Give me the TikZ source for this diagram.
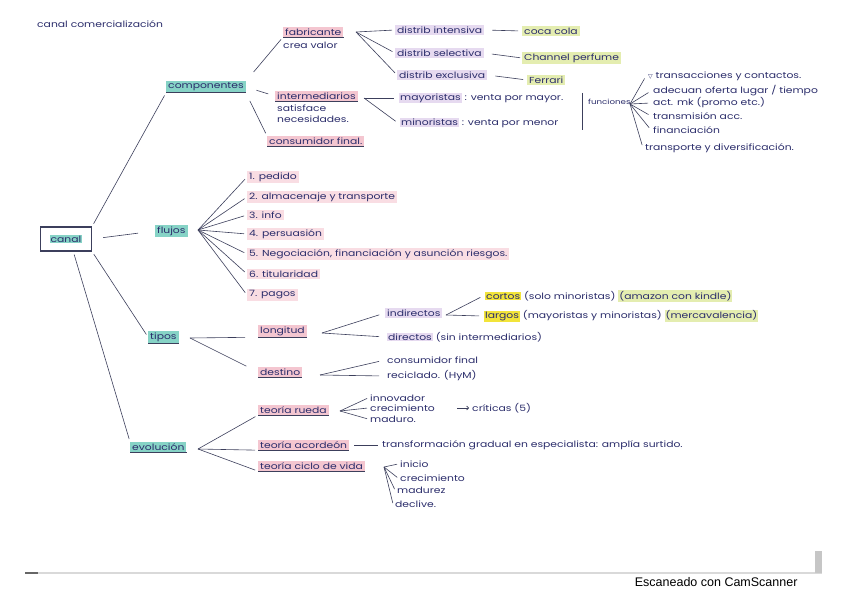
\documentclass[tikz,border=0pt]{standalone}
\usepackage{fontspec}
\newfontfamily\hand[FakeStretch=1.24]{Poppins}
\newfontfamily\scanfont{Liberation Sans}
\newfontfamily\symfont{DejaVu Sans}
\usepackage{xcolor}
\definecolor{ink}{HTML}{2B2D6B}
\definecolor{line}{HTML}{3C3F5C}
\definecolor{hlteal}{HTML}{86D3C6}
\definecolor{hlpink}{HTML}{F4C6D0}
\definecolor{hlrose}{HTML}{F9DDE3}
\definecolor{hllav}{HTML}{E6DAF0}
\definecolor{hlgrn}{HTML}{E4EDB0}
\definecolor{hlyel}{HTML}{F2E43A}
\usepackage{tikz}
\usetikzlibrary{positioning,arrows.meta,calc}
\newcommand{\hlt}[2]{{\setlength{\fboxsep}{1pt}\colorbox{#1}{#2}}}

\tikzset{
  hand/.style={font=\hand\fontsize{8.7}{9}\selectfont, text=ink, inner xsep=2pt, inner ysep=1.5pt, anchor=west},
  tealbox/.style={hand, fill=hlteal},
  pinkbox/.style={hand, fill=hlpink},
  rosebox/.style={hand, fill=hlrose},
  lavbox/.style={hand, fill=hllav},
  grnbox/.style={hand, fill=hlgrn},
  ul/.style={append after command={(\tikzlastnode.south west) edge[draw=line, line width=0.7pt] (\tikzlastnode.south east)}},
  link/.style={draw=line, line width=0.6pt, shorten <=3pt, shorten >=3pt}
}

\begin{document}
\begin{tikzpicture}[x=1pt,y=-1pt]
  \useasboundingbox (0,0) rectangle (848,599);
  \fill[white] (0,0) rectangle (848,599);
  \draw[gray!30, line width=1.2pt] (25,573) -- (822,573);
  \draw[gray!80!black, line width=1.5pt] (25,573) -- (38,573);
  \fill[gray!45] (815,551) rectangle (822,573);
  \node[font=\scanfont\fontsize{12.5}{14}\selectfont, anchor=east] (scan) at (801,582) {Escaneado con CamScanner};

  \node[hand] (title) at (35,24) {canal comercialización};
  \node[hand, draw=line, line width=1.3pt, minimum width=51pt, minimum height=24pt, anchor=center] (canal) at (66,239) {\hlt{hlteal}{canal}};

  \node[tealbox, ul] (comp) at (166,87) {componentes};
  \node[pinkbox, ul] (fab) at (283,32) {fabricante};
  \node[hand] (crea) at (281,45) {crea valor};
  \node[lavbox] (di) at (395,30) {distrib intensiva};
  \node[lavbox] (ds) at (395,53) {distrib selectiva};
  \node[lavbox] (de) at (397,75) {distrib exclusiva};
  \node[grnbox] (coca) at (522,31) {coca cola};
  \node[grnbox] (chan) at (522,58) {Channel perfume};
  \node[grnbox] (ferr) at (527,80) {Ferrari};
  \node[pinkbox, ul] (inter) at (275,96) {intermediarios};
  \node[hand] (satis) at (275,108) {satisface};
  \node[hand] (neces) at (275,119) {necesidades.};
  \node[hand] (may) at (397,98) {\hlt{hllav}{mayoristas} : venta por mayor.};
  \node[hand] (min) at (398,123) {\hlt{hllav}{minoristas} : venta por menor};
  \node[hand, font=\hand\fontsize{7}{8}\selectfont] (func) at (586,102) {funciones};
  \node[hand] (fun1) at (646,76) {{\symfont\fontsize{6}{7}\selectfont ▽} transacciones y contactos.};
  \node[hand] (fun2) at (651,91) {adecuan oferta lugar / tiempo};
  \node[hand] (fun3) at (651,103) {act. mk (promo etc.)};
  \node[hand] (fun4) at (651,116) {transmisión acc.};
  \node[hand] (fun5) at (651,130) {financiación};
  \node[hand] (fun6) at (643,148) {transporte y diversificación.};
  \node[pinkbox, ul] (cons) at (267,141) {consumidor final.};

  \node[tealbox] (flujos) at (155,231) {flujos};
  \node[rosebox] (fl1) at (247,177) {1. pedido};
  \node[rosebox] (fl2) at (247,197) {2. almacenaje y transporte};
  \node[rosebox] (fl3) at (247,215) {3. info};
  \node[rosebox] (fl4) at (247,234) {4. persuasión};
  \node[rosebox] (fl5) at (247,254) {5. Negociación, financiación y asunción riesgos.};
  \node[rosebox] (fl6) at (247,274) {6. titularidad};
  \node[rosebox] (fl7) at (247,295) {7. pagos};

  \node[tealbox, ul] (tipos) at (148,337) {tipos};
  \node[pinkbox, ul] (long) at (258,331) {longitud};
  \node[lavbox] (indir) at (385,313) {indirectos};
  \node[hand] (cortos) at (483,296) {\hlt{hlyel}{cortos} (solo minoristas) \hlt{hlgrn}{(amazon con kindle)}};
  \node[hand] (largos) at (482,316) {\hlt{hlyel}{largos} (mayoristas y minoristas) \hlt{hlgrn}{(mercavalencia)}};
  \node[hand] (direc) at (385,337) {\hlt{hllav}{directos} (sin intermediarios)};
  \node[pinkbox, ul] (dest) at (258,372) {destino};
  \node[hand] (consf) at (385,360) {consumidor final};
  \node[hand] (recic) at (385,376) {reciclado. (HyM)};

  \node[tealbox, ul] (evol) at (130,447) {evolución};
  \node[pinkbox, ul] (rueda) at (258,410) {teoría rueda};
  \node[hand] (innov) at (368,398) {innovador};
  \node[hand] (crec) at (368,408) {crecimiento};
  \node[hand] (madu) at (368,419) {maduro.};
  \node[hand] (crit) at (470,408) {críticas (5)};
  \node[pinkbox, ul] (acord) at (258,445) {teoría acordeón};
  \node[hand] (transf) at (380,445) {transformación gradual en especialista: amplía surtido.};
  \node[pinkbox, ul] (ciclo) at (258,466) {teoría ciclo de vida};
  \node[hand] (ini) at (398,464) {inicio};
  \node[hand] (crec2) at (398,478) {crecimiento};
  \node[hand] (madz) at (395,490) {madurez};
  \node[hand] (decl) at (393,504) {declive.};

  \coordinate (fabfan) at (356,32);
  \coordinate (interfan) at (364,98);
  \coordinate (funtop) at (582,93);
  \coordinate (funbot) at (582,130);
  \coordinate (funfan) at (630,104);
  \coordinate (flufan) at (198,230);
  \coordinate (tipfan) at (190,338);
  \coordinate (longfan) at (322,333);
  \coordinate (destfan) at (320,375);
  \coordinate (indirfan) at (446,315);
  \coordinate (evolfan) at (198,449);
  \coordinate (ruedafan) at (340,411);
  \coordinate (ciclofan) at (384,467);
  \coordinate (critstart) at (457,408);

  \draw[link] (canal.north east) -- (comp.south west);
  \draw[link, shorten <=11pt, shorten >=17pt] (canal.east) -- (flujos.west);
  \draw[link] (canal.south east) -- (tipos.west);
  \draw[link] (canal.-60) -- (evol.north west);

  \draw[link, shorten <=12pt] (comp.north east) -- (fab.south west);
  \draw[link, shorten <=11pt, shorten >=7pt] (comp.east) -- (inter.west);
  \draw[link, shorten <=9pt] (comp.south east) -- (cons.north west);

  \foreach \n in {di,ds,de}
    \draw[link, shorten <=0pt] (fabfan) -- (\n.west);
  \draw[link, shorten <=8pt, shorten >=4pt] (di.east) -- (coca.west);
  \draw[link, shorten <=8pt, shorten >=2pt] (ds.east) -- (chan.west);
  \draw[link, shorten <=8pt, shorten >=4pt] (de.east) -- (ferr.west);
  \foreach \n in {may,min}
    \draw[link, shorten <=0pt] (interfan) -- (\n.west);

  \draw[line, line width=0.6pt] (funtop) -- (funbot);
  \foreach \n in {fun1,fun2,fun3,fun4,fun5,fun6}
    \draw[link, shorten <=0pt] (funfan) -- (\n.west);

  \foreach \n in {fl1,fl2,fl3,fl4,fl5,fl6,fl7}
    \draw[link, shorten <=0pt] (flufan) -- (\n.west);

  \draw[link, shorten <=0pt, shorten >=13pt] (tipfan) -- (long.south west);
  \draw[link, shorten <=0pt, shorten >=13pt] (tipfan) -- (dest.west);
  \foreach \n in {indir,direc}
    \draw[link, shorten <=0pt, shorten >=6pt] (longfan) -- (\n.west);
  \foreach \n in {consf,recic}
    \draw[link, shorten <=0pt, shorten >=6pt] (destfan) -- (\n.west);
  \foreach \n in {cortos,largos}
    \draw[link, shorten <=0pt] (indirfan) -- (\n.west);

  \foreach \n in {rueda,acord,ciclo}
    \draw[link, shorten <=0pt] (evolfan) -- (\n.south west);
  \foreach \n in {innov,crec,madu}
    \draw[link, shorten <=0pt, shorten >=1pt] (ruedafan) -- (\n.west);
  \draw[link, -{Straight Barb[length=2pt]}, shorten <=0pt, shorten >=1pt] (critstart) -- (crit.west);
  \draw[link, shorten <=5pt, shorten >=2pt] (acord.east) -- (transf.west);
  \foreach \n in {ini,crec2,madz,decl}
    \draw[link, shorten <=0pt, shorten >=1pt] (ciclofan) -- (\n.west);
\end{tikzpicture}
\end{document}
